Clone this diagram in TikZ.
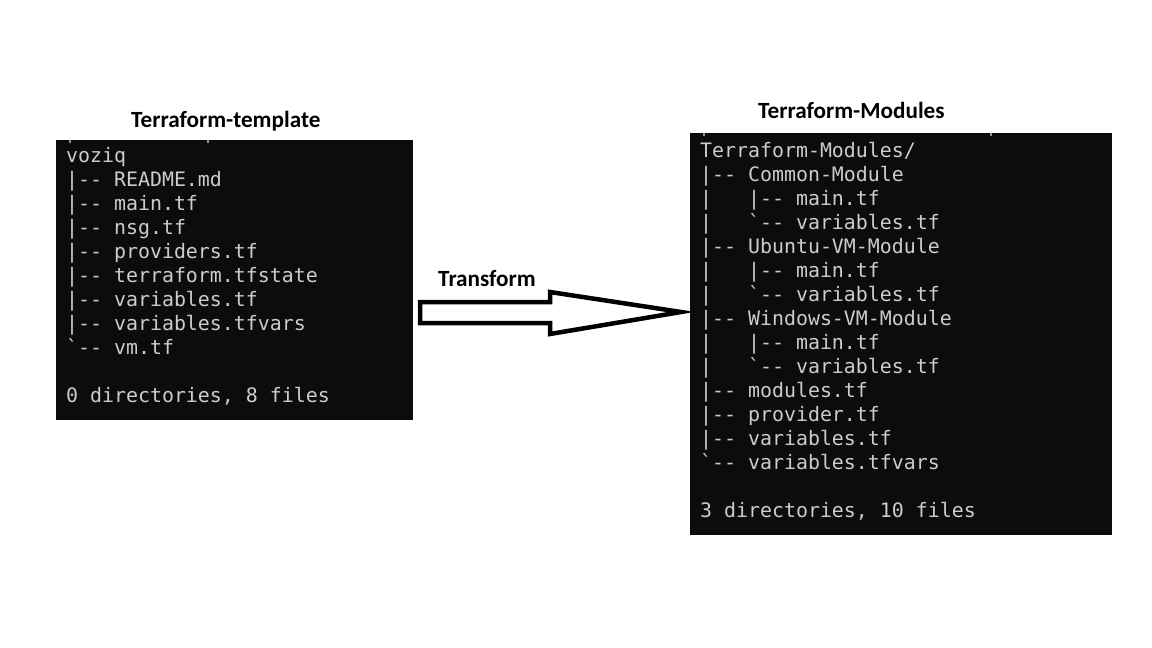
\documentclass[tikz,border=0pt]{standalone}
\usepackage{fontspec}
\newfontfamily\termfont{DejaVu Sans Mono}[Ligatures=TeXOff]
\newfontfamily\titlefont{Carlito}
\definecolor{termbg}{HTML}{0C0C0C}
\definecolor{termfg}{HTML}{CCCCCC}
\begin{document}
\begin{tikzpicture}[x=1pt,y=-1pt,
  term/.style={fill=termbg,draw=none,inner sep=0pt,anchor=north west},
  tline/.style={anchor=base west,inner sep=0pt,text=termfg,font=\termfont\fontsize{19.9}{24}\selectfont},
  title/.style={anchor=base west,inner sep=0pt,text=black,font=\titlefont\bfseries\fontsize{23.2}{26}\selectfont},
  tick/.style={fill=termfg!70!termbg,draw=none},
  bigarrow/.style={draw=black,line width=4.5pt,fill=white,line join=miter}]
\useasboundingbox[fill=white] (0,0) rectangle (1152,648);
% terminal windows
\node[term,minimum width=357pt,minimum height=280pt] (left) at (56,140) {};
\node[term,minimum width=422pt,minimum height=402pt] (right) at (690,133) {};
% glyph remnants at the top edge
\fill[tick] (69,140) rectangle (71,143);
\fill[tick] (207,140) rectangle (209,143);
\fill[tick] (703,133) rectangle (705,136);
\fill[tick] (990,133) rectangle (992,136);
% titles
\node[title] (ltitle) at (131,127) {Terraform-template};
\node[title] (rtitle) at (758,118) {Terraform-Modules};
\node[title] (ttitle) at (438,286) {Transform};
% left listing
\foreach \t [count=\i from 0] in {voziq,
  {|-- README.md},
  {|-- main.tf},
  {|-- nsg.tf},
  {|-- providers.tf},
  {|-- terraform.tfstate},
  {|-- variables.tf},
  {|-- variables.tfvars},
  {`-- vm.tf},
  {},
  {0 directories, 8 files}}
  \node[tline] (l\i) at (66,162+24*\i) {\t};
% right listing
\foreach \t [count=\i from 0] in {Terraform-Modules/,
  {|-- Common-Module},
  {|\ \ \ |-- main.tf},
  {|\ \ \ `-- variables.tf},
  {|-- Ubuntu-VM-Module},
  {|\ \ \ |-- main.tf},
  {|\ \ \ `-- variables.tf},
  {|-- Windows-VM-Module},
  {|\ \ \ |-- main.tf},
  {|\ \ \ `-- variables.tf},
  {|-- modules.tf},
  {|-- provider.tf},
  {|-- variables.tf},
  {`-- variables.tfvars},
  {},
  {3 directories, 10 files}}
  \node[tline] (r\i) at (700,157+24*\i) {\t};
% block arrow
\coordinate (atail) at (420,312);
\coordinate (atip) at (681,312);
\draw[bigarrow] (atail |- 0,302) -- (550,302) -- (550,292) -- (atip) -- (550,334) -- (550,323) -- (atail |- 0,323) -- cycle;
\end{tikzpicture}
\end{document}
